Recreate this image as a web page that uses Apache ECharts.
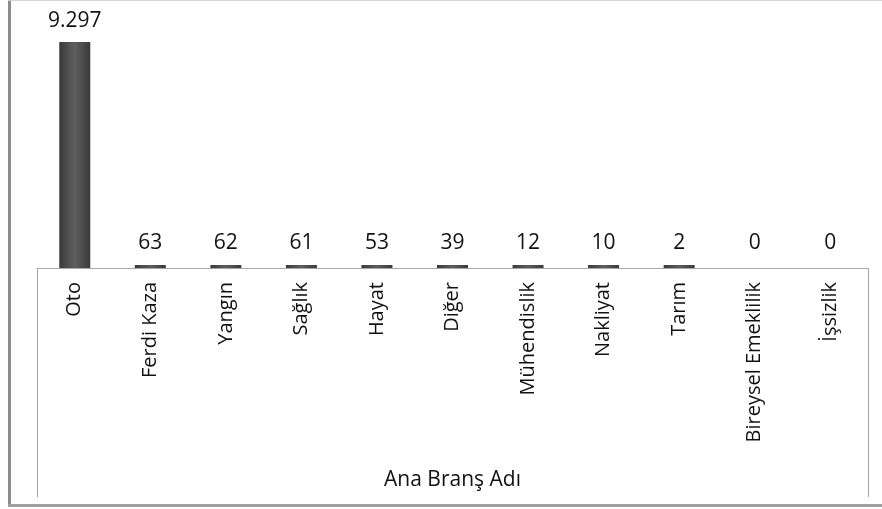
<!DOCTYPE html>
<html>
  <head>
    <meta charset="utf-8" />
    <title>Ana Branş Adı</title>
    <script src="https://cdn.jsdelivr.net/npm/echarts@6/dist/echarts.min.js"></script>
    <style>
      body {
        margin: 0;
        background: #ffffff;
      }
      #main {
        width: 882px;
        height: 509px;
      }
    </style>
  </head>
  <body>
    <div id="main"></div>
    <script type="text/javascript">
      // data
      var branches = [
        "Oto",
        "Ferdi Kaza",
        "Yangın",
        "Sağlık",
        "Hayat",
        "Diğer",
        "Mühendislik",
        "Nakliyat",
        "Tarım",
        "Bireysel Emeklilik",
        "İşsizlik",
      ];
      var counts = [9297, 63, 62, 61, 53, 39, 12, 10, 2, 0, 0];
      var axisTitle = "Ana Branş Adı";

      var font = "'Open Sans', 'Noto Sans', sans-serif";

      // 9297 -> "9.297"
      function trNumber(v) {
        return String(v).replace(/\B(?=(\d{3})+(?!\d))/g, ".");
      }

      var barFill = {
        type: "linear",
        x: 0,
        y: 0,
        x2: 1,
        y2: 0,
        colorStops: [
          { offset: 0, color: "#3a3a3a" },
          { offset: 0.5, color: "#5e5e5e" },
          { offset: 1, color: "#3a3a3a" },
        ],
      };

      // zero rows keep their label but show no bar
      var barData = counts.map(function (v) {
        if (v === 0) return { value: v, itemStyle: { color: "rgba(0,0,0,0)" } };
        return { value: v };
      });

      var myChart = echarts.init(document.getElementById("main"));

      var option = {
        animation: false,
        grid: { left: 37, right: 14, top: 25, bottom: 241 },
        xAxis: {
          type: "category",
          data: branches,
          axisLine: { show: true, lineStyle: { color: "#a6a6a6", width: 1 } },
          axisTick: { show: false },
          axisLabel: {
            rotate: 90,
            margin: 14,
            fontSize: 20,
            fontFamily: font,
            color: "#111111",
          },
          name: axisTitle,
          nameLocation: "middle",
          nameGap: 202,
          nameTextStyle: { fontSize: 21, fontFamily: font, color: "#111111" },
        },
        yAxis: {
          type: "value",
          min: 0,
          max: 10000,
          show: false,
        },
        series: [
          {
            type: "bar",
            data: barData,
            barWidth: 31,
            barMinHeight: 3,
            itemStyle: { color: barFill },
            label: {
              show: true,
              position: "top",
              distance: 11,
              fontSize: 21,
              fontFamily: font,
              color: "#111111",
              formatter: function (p) {
                return trNumber(p.value);
              },
            },
          },
        ],
        graphic: [
          // outer frame
          { type: "rect", shape: { x: 8, y: 0, width: 3, height: 507 }, style: { fill: "#8c8c8c" } },
          { type: "rect", shape: { x: 8, y: 0, width: 874, height: 1 }, style: { fill: "#d4d4d4" } },
          { type: "rect", shape: { x: 8, y: 504, width: 874, height: 3 }, style: { fill: "#a0a0a0" } },
          // category box sides
          { type: "line", shape: { x1: 37.5, y1: 268, x2: 37.5, y2: 497 }, style: { stroke: "#a6a6a6", lineWidth: 1 } },
          { type: "line", shape: { x1: 868.5, y1: 268, x2: 868.5, y2: 497 }, style: { stroke: "#a6a6a6", lineWidth: 1 } },
        ],
      };

      myChart.setOption(option);
    </script>
  </body>
</html>
